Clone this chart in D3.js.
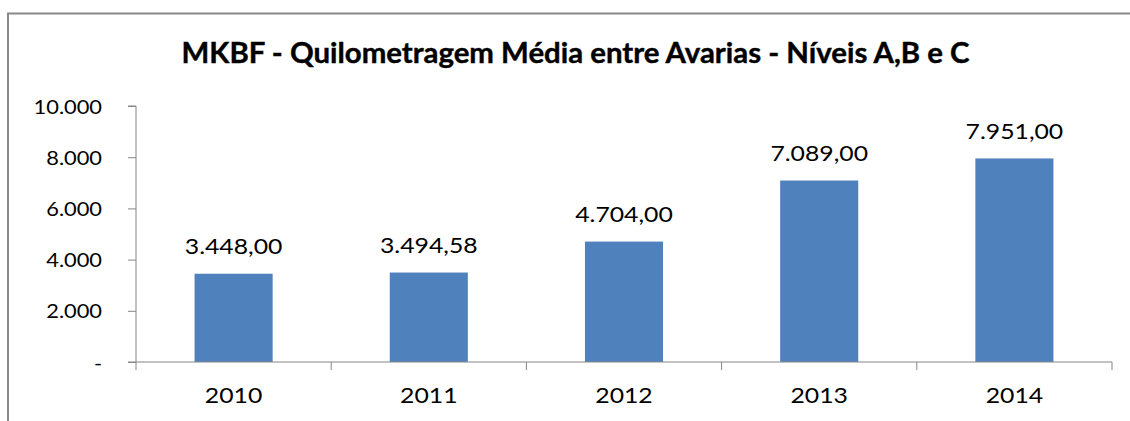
<!DOCTYPE html>
<html><head><meta charset="utf-8">
<script src="https://cdn.jsdelivr.net/npm/d3@7"></script>
<style>body{margin:0;background:#fff}svg{display:block}text{font-family:Lato,"Open Sans",sans-serif;fill:#000}</style>
</head><body>
<script>
const categories = ["2010","2011","2012","2013","2014"];
const values = [3448.00, 3494.58, 4704.00, 7089.00, 7951.00];
const valueLabels = ["3.448,00","3.494,58","4.704,00","7.089,00","7.951,00"];
const yTicks = [0,2000,4000,6000,8000,10000];
const yTickLabels = ["-","2.000","4.000","6.000","8.000","10.000"];
const title = "MKBF - Quilometragem Média entre Avarias - Níveis A,B e C";

const W=1130,H=421;
const svg=d3.select("body").append("svg").attr("width",W).attr("height",H);
svg.append("path").attr("d","M8,421V13.5H1130").attr("fill","none").attr("stroke","#898989").attr("stroke-width",2);

const x=d3.scaleBand().domain(categories).range([136,1112]).paddingInner(0.6).paddingOuter(0.3);
const y=d3.scaleLinear().domain([0,10000]).range([362,106]);
const axisColor="#868686";
const SX=1.18;

svg.append("text").attr("text-anchor","middle")
 .attr("font-weight","bold").attr("font-size",28).attr("stroke","#000").attr("stroke-width",0.4).text(title)
 .attr("transform","translate(575.5,63) scale(1.05,1)");

// bars
svg.selectAll("rect.bar").data(values).join("rect").attr("class","bar")
 .attr("x",(d,i)=>x(categories[i])).attr("width",x.bandwidth())
 .attr("y",d=>y(d)).attr("height",d=>y(0)-y(d)).attr("fill","#4F81BD");

// value labels
svg.selectAll("text.val").data(values).join("text").attr("class","val")
 .attr("text-anchor","middle").attr("font-size",21)
 .attr("transform",(d,i)=>`translate(${x(categories[i])+x.bandwidth()/2},${y(d)-19.5}) scale(${SX},1)`)
 .text((d,i)=>valueLabels[i]);

// y axis
const yAxis=d3.axisLeft(y).tickValues(yTicks).tickSize(8).tickFormat((d,i)=>yTickLabels[i]);
const gy=svg.append("g").attr("transform","translate(136,0)").call(yAxis);
gy.select(".domain").attr("stroke",axisColor).attr("d","M-8,106H0V362H-8");
gy.selectAll(".tick line").attr("stroke",axisColor);
gy.selectAll(".tick text").attr("font-size",18.5).attr("fill","#000").attr("x",0).attr("dy",null)
 .attr("text-anchor","end")
 .attr("transform",`translate(-34,7) scale(${SX},1)`);

// x axis
const xb=d3.scaleLinear().domain([0,5]).range([136,1112]);
const gx=svg.append("g").attr("transform","translate(0,362)");
gx.append("line").attr("x1",136).attr("x2",1112).attr("stroke",axisColor);
gx.selectAll("line.t").data(d3.range(6)).join("line").attr("class","t")
 .attr("x1",d=>xb(d)).attr("x2",d=>xb(d)).attr("y1",0).attr("y2",8).attr("stroke",axisColor);
gx.selectAll("text").data(categories).join("text").attr("text-anchor","middle").attr("font-size",21)
 .attr("transform",d=>`translate(${x(d)+x.bandwidth()/2},41) scale(${SX},1)`).text(d=>d);
</script>
</body></html>
